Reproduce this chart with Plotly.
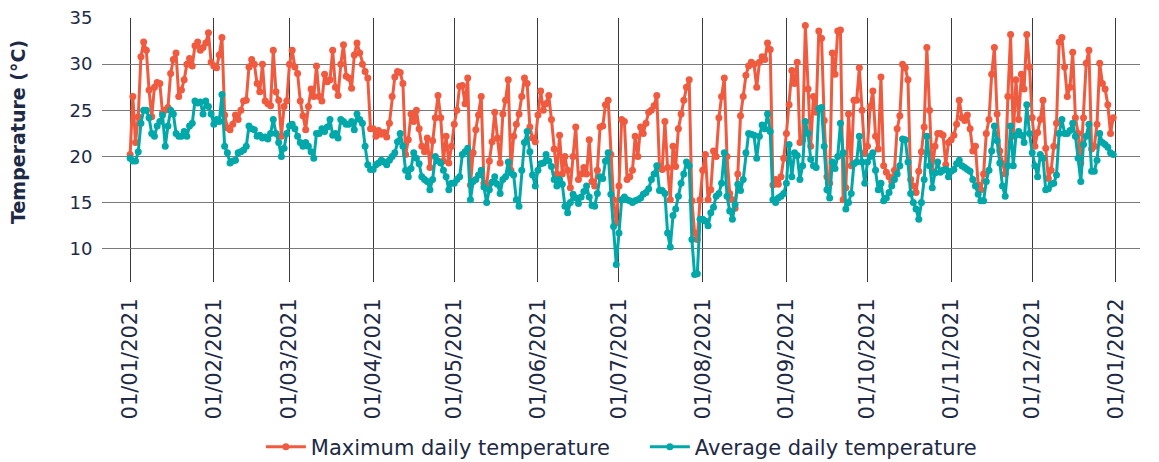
import pandas as pd
import plotly.graph_objects as go

# Maximum daily temperature (°C) per month, 2021
max_jan = [20.2, 26.5, 21.5, 24.3, 30.8, 32.4, 31.5, 27.2, 24.3, 27.5, 28.0, 27.9, 24.7, 25.0, 25.3, 29.0, 30.5, 31.2, 26.5, 27.2, 28.3, 30.0, 30.6, 29.8, 32.0, 32.4, 31.5, 31.8, 32.3, 33.4, 30.2]
max_feb = [29.8, 29.6, 31.0, 32.9, 24.5, 23.1, 22.9, 23.5, 24.5, 24.0, 25.0, 26.0, 26.1, 29.7, 30.5, 30.0, 27.9, 27.0, 30.0, 26.0, 25.7, 25.5, 31.5, 27.0, 26.1, 22.2, 25.4, 26.0]
max_mar = [30.0, 31.5, 29.7, 29.0, 26.0, 24.4, 22.9, 25.4, 27.3, 26.5, 29.8, 26.5, 26.0, 28.9, 28.1, 28.3, 31.5, 27.5, 26.6, 30.0, 32.1, 28.7, 28.5, 27.4, 31.0, 32.3, 31.2, 30.0, 29.2, 28.5, 23.0]
max_apr = [23.0, 22.2, 22.8, 22.4, 22.6, 22.1, 23.6, 26.5, 28.6, 29.2, 29.1, 27.9, 20.2, 21.8, 24.6, 23.8, 25.0, 23.0, 21.1, 20.5, 22.0, 18.8, 21.7, 24.2, 26.6, 24.2, 19.5, 22.2, 19.3, 21.1]
max_may = [23.5, 25.0, 27.6, 27.7, 25.7, 28.5, 16.9, 20.4, 22.9, 24.5, 26.5, 17.1, 16.9, 19.5, 21.6, 24.8, 22.0, 19.3, 24.6, 26.1, 28.3, 18.5, 22.2, 23.5, 24.6, 26.5, 28.5, 27.9, 23.2, 22.0, 21.6]
max_jun = [24.5, 27.1, 25.0, 25.7, 26.6, 24.0, 20.8, 18.1, 22.3, 18.1, 20.0, 18.5, 16.6, 20.0, 23.2, 17.5, 18.1, 18.8, 18.1, 21.8, 17.3, 16.8, 18.5, 23.2, 23.3, 25.6, 26.1, 20.2, 15.3, 12.8]
max_jul = [16.8, 24.0, 23.8, 17.5, 17.8, 18.5, 22.2, 20.0, 23.2, 22.5, 23.6, 24.8, 25.0, 25.5, 26.6, 18.9, 18.6, 23.8, 18.8, 15.3, 21.1, 18.9, 23.0, 24.6, 26.1, 27.5, 28.3, 15.2, 11.7, 11.0, 15.3]
max_aug = [18.5, 20.2, 15.3, 16.4, 20.6, 20.0, 24.2, 26.5, 28.5, 20.0, 16.0, 15.3, 14.4, 18.1, 24.4, 26.5, 28.8, 29.8, 30.2, 30.0, 27.5, 30.2, 30.8, 30.5, 32.3, 31.6, 16.9, 17.5, 17.0, 17.8, 19.8]
max_sep = [22.5, 25.6, 29.3, 27.9, 30.2, 21.5, 21.8, 34.2, 27.3, 21.1, 26.5, 24.8, 33.6, 32.8, 23.9, 17.8, 17.1, 31.2, 28.9, 33.6, 33.7, 15.3, 16.6, 24.6, 19.0, 26.1, 26.1, 29.6, 25.0, 20.4]
max_oct = [21.1, 25.4, 27.1, 22.2, 20.8, 28.6, 19.0, 18.3, 17.8, 17.3, 18.5, 23.0, 24.4, 30.0, 29.6, 28.3, 17.5, 16.8, 16.1, 18.4, 20.5, 23.2, 31.8, 25.0, 18.4, 21.1, 22.5, 22.5, 22.3, 19.1, 21.5]
max_nov = [21.8, 22.3, 23.5, 26.1, 24.2, 23.9, 24.5, 23.0, 20.6, 21.1, 16.9, 16.4, 18.1, 22.5, 24.0, 28.9, 31.8, 24.6, 20.6, 19.2, 18.1, 26.5, 33.2, 22.2, 28.3, 24.0, 28.9, 27.3, 33.2, 29.7]
max_dec = [24.2, 21.1, 22.6, 24.0, 26.1, 20.9, 17.6, 18.5, 21.1, 23.6, 32.4, 32.9, 29.7, 26.5, 27.5, 31.3, 24.2, 22.5, 19.3, 24.2, 30.1, 31.5, 20.8, 21.1, 23.5, 30.1, 27.9, 27.3, 25.6, 22.5, 24.2]

# Average daily temperature (°C) per month, 2021
avg_jan = [19.8, 19.5, 19.5, 20.5, 23.6, 25.0, 25.0, 24.2, 22.5, 22.2, 23.3, 23.8, 24.5, 21.1, 23.3, 25.0, 24.6, 22.5, 22.2, 22.2, 22.7, 22.2, 23.3, 23.6, 26.0, 25.8, 25.9, 24.6, 26.0, 25.4, 24.6]
avg_feb = [23.5, 24.0, 23.8, 26.7, 21.1, 20.4, 19.3, 19.5, 19.6, 20.4, 20.5, 20.7, 21.1, 23.3, 23.0, 22.9, 22.2, 22.3, 22.0, 22.1, 21.9, 22.5, 24.0, 22.5, 21.5, 20.0, 20.9, 22.5]
avg_mar = [23.3, 23.5, 23.0, 22.2, 21.5, 21.1, 21.5, 21.1, 20.5, 19.8, 22.5, 22.5, 23.0, 22.7, 23.2, 24.0, 22.3, 22.5, 22.0, 24.0, 23.8, 23.5, 23.5, 23.8, 22.9, 24.6, 24.0, 23.6, 21.1, 19.1, 18.6]
avg_apr = [18.6, 19.1, 19.3, 19.6, 19.4, 19.1, 19.6, 20.0, 20.4, 21.6, 22.5, 21.1, 18.5, 17.8, 18.7, 20.4, 19.8, 19.2, 17.8, 17.5, 17.3, 16.4, 17.5, 20.0, 19.5, 19.3, 18.5, 17.8, 16.4, 17.1]
avg_may = [17.1, 17.5, 17.8, 20.2, 20.5, 20.9, 15.3, 17.3, 17.5, 18.0, 18.5, 16.7, 15.0, 16.4, 17.2, 17.8, 17.0, 16.0, 17.5, 17.8, 19.4, 18.2, 18.0, 15.3, 14.6, 18.5, 21.5, 22.7, 20.5, 18.0, 16.8]
avg_jun = [18.5, 19.2, 19.3, 20.2, 19.5, 18.9, 17.5, 16.8, 17.5, 17.0, 14.6, 13.9, 15.0, 15.9, 15.5, 14.9, 15.6, 16.2, 16.8, 15.6, 14.7, 14.6, 16.0, 17.8, 17.6, 19.5, 20.4, 15.9, 12.4, 8.3]
avg_jul = [11.7, 15.3, 15.6, 15.3, 15.2, 15.0, 15.2, 15.3, 15.5, 15.9, 16.1, 16.5, 17.5, 18.1, 19.0, 16.3, 16.3, 16.0, 11.7, 10.2, 13.6, 14.3, 15.7, 17.1, 18.1, 19.4, 19.0, 11.0, 7.2, 7.3, 13.2]
avg_aug = [13.2, 13.0, 12.5, 13.9, 14.5, 15.7, 16.0, 17.1, 20.4, 15.7, 14.1, 13.2, 14.8, 17.0, 16.3, 17.5, 20.4, 22.5, 22.4, 22.3, 19.8, 22.2, 23.4, 23.0, 24.6, 22.7, 15.3, 15.0, 15.5, 15.7, 16.0]
avg_sep = [17.1, 21.3, 17.8, 20.4, 20.1, 17.5, 19.0, 23.8, 22.5, 19.7, 19.0, 18.8, 25.2, 25.3, 21.1, 16.4, 15.5, 19.4, 18.7, 20.0, 23.6, 20.4, 14.3, 15.0, 16.0, 19.2, 19.4, 22.2, 19.4, 17.1]
avg_oct = [19.4, 20.0, 20.4, 18.5, 16.4, 17.1, 15.2, 15.5, 16.1, 16.8, 17.5, 18.1, 19.0, 21.9, 21.8, 19.4, 16.0, 15.0, 14.3, 13.2, 15.0, 17.5, 22.2, 19.0, 16.6, 18.2, 19.4, 18.3, 18.5, 18.6, 17.8]
avg_nov = [18.4, 18.6, 19.2, 19.6, 19.0, 18.8, 18.6, 18.4, 17.5, 16.8, 15.9, 15.2, 15.2, 17.3, 18.5, 20.6, 23.3, 21.7, 19.3, 16.8, 15.7, 19.0, 23.3, 19.0, 22.3, 22.7, 22.3, 21.5, 25.6, 22.5]
avg_dec = [20.4, 19.0, 17.8, 20.2, 19.8, 16.4, 16.5, 17.0, 17.1, 18.0, 22.5, 24.0, 22.5, 22.5, 22.8, 23.6, 22.2, 19.8, 17.3, 21.3, 22.2, 23.5, 18.4, 18.4, 19.6, 22.5, 21.5, 21.3, 21.0, 20.4, 20.2]

tick_dates = ["2021-01-01", "2021-02-01", "2021-03-01", "2021-04-01", "2021-05-01", "2021-06-01",
              "2021-07-01", "2021-08-01", "2021-09-01", "2021-10-01", "2021-11-01", "2021-12-01", "2022-01-01"]
tick_labels = ["01/01/2021", "01/02/2021", "01/03/2021", "01/04/2021", "01/05/2021", "01/06/2021",
               "01/07/2021", "01/08/2021", "01/09/2021", "01/10/2021", "01/11/2021", "01/12/2021", "01/01/2022"]
y_ticks = [10, 15, 20, 25, 30, 35]

max_temp = (max_jan + max_feb + max_mar + max_apr + max_may + max_jun +
            max_jul + max_aug + max_sep + max_oct + max_nov + max_dec)
avg_temp = (avg_jan + avg_feb + avg_mar + avg_apr + avg_may + avg_jun +
            avg_jul + avg_aug + avg_sep + avg_oct + avg_nov + avg_dec)
dates = pd.date_range("2021-01-01", periods=len(max_temp), freq="D")

RED = "#F05A3E"
TEAL = "#00A8AA"
TEXT = "#1E2A45"
FONT = "DejaVu Sans"

fig = go.Figure()
fig.add_trace(go.Scatter(x=dates, y=max_temp, mode="lines+markers", name="Maximum daily temperature",
                         line=dict(color=RED, width=3), marker=dict(color=RED, size=7)))
fig.add_trace(go.Scatter(x=dates, y=avg_temp, mode="lines+markers", name="Average daily temperature",
                         line=dict(color=TEAL, width=3), marker=dict(color=TEAL, size=7)))

fig.update_layout(
    width=1159, height=462,
    margin=dict(l=102, r=19, t=18, b=180, autoexpand=False),
    paper_bgcolor="white", plot_bgcolor="white",
    font=dict(family=FONT, color=TEXT, size=18),
    legend=dict(orientation="h", x=0.523, xanchor="center", y=-0.625, yanchor="middle",
                font=dict(size=21, color=TEXT), itemwidth=40, entrywidth=329, entrywidthmode="pixels"),
    showlegend=True,
    annotations=[dict(text="<b>Temperature (°C)</b>", xref="paper", yref="paper",
                      x=-0.081, y=0.568, xanchor="center", yanchor="middle", textangle=-90,
                      showarrow=False, font=dict(size=19, color=TEXT, family=FONT))],
)
fig.update_xaxes(type="date", range=["2020-12-21 14:00", "2022-01-09 22:00"], automargin=False,
                 tickmode="array", tickvals=tick_dates, ticktext=tick_labels, tickangle=-90,
                 showgrid=True, gridcolor="#3A3A3A", gridwidth=1,
                 showline=False, zeroline=False, ticks="outside", ticklen=7, tickcolor="rgba(0,0,0,0)",
                 tickfont=dict(size=21, color=TEXT))
fig.update_yaxes(range=[6.4, 35], tickmode="array", tickvals=y_ticks, automargin=False,
                 showgrid=True, gridcolor="#7A7A7A", gridwidth=1, zeroline=False, showline=False,
                 ticks="outside", ticklen=5, tickcolor="rgba(0,0,0,0)",
                 tickfont=dict(size=18, color=TEXT))

# Remove the browser's default 8px body margin so the figure fills the window exactly.
fig.write_html("out.html", config={"displayModeBar": False},
               post_script="document.body.style.margin='0';")
